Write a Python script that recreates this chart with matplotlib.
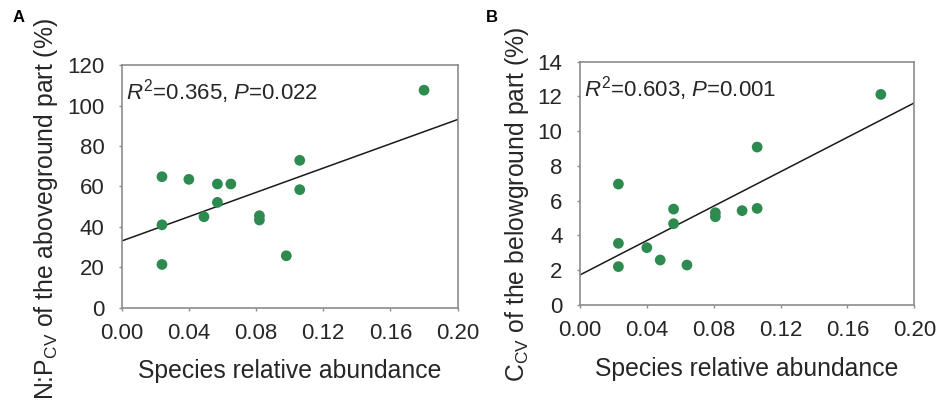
import numpy as np
import matplotlib
matplotlib.use('Agg')
import matplotlib.pyplot as plt

plt.rcParams['font.family'] = ['Liberation Sans', 'DejaVu Sans']
plt.rcParams['mathtext.fontset'] = 'custom'
plt.rcParams['mathtext.rm'] = 'Liberation Sans'
plt.rcParams['mathtext.it'] = 'Liberation Sans:italic'

# panel A: N:P CV of aboveground part
abund_a = [0.180, 0.024, 0.040, 0.057, 0.065, 0.106, 0.106, 0.057,
           0.049, 0.082, 0.082, 0.024, 0.098, 0.024]
np_cv = [107.6, 64.8, 63.5, 61.2, 61.2, 72.9, 58.4, 52.1,
         45.0, 45.5, 43.4, 41.0, 25.7, 21.4]
# panel B: C CV of belowground part
abund_b = [0.180, 0.023, 0.106, 0.056, 0.056, 0.040, 0.023, 0.023,
           0.048, 0.064, 0.081, 0.081, 0.097, 0.106]
c_cv = [12.12, 6.96, 9.09, 5.52, 4.68, 3.30, 3.55, 2.21,
        2.59, 2.30, 5.31, 5.08, 5.43, 5.56]

# fitted lines (intercept, slope)
fit_a = (33.0, 300.5)
fit_b = (1.73, 49.5)

stats_a = r'$R^2$=0.365, $P$=0.022'
stats_b = r'$R^2$=0.603, $P$=0.001'

xticks = [0.00, 0.04, 0.08, 0.12, 0.16, 0.20]

green = '#2e8b4f'
spine_col = '#8c8c8c'
txt_col = '#262626'

fig = plt.figure(figsize=(9.38, 4.05), dpi=100)
ax_a = fig.add_axes([0.1297, 0.2402, 0.3582, 0.599])
ax_b = fig.add_axes([0.6183, 0.2469, 0.3564, 0.6007])


def draw(ax, x, y, fit, stats, ylim, ystep, ylabel, ylab_y):
    xs = np.array([0.0, 0.2])
    ax.plot(xs, fit[0] + fit[1] * xs, color='#1a1a1a', lw=1.1, zorder=2)
    ax.scatter(x, y, s=60, color=green, edgecolor='none', zorder=3)
    ax.set_xlim(0, 0.2)
    ax.set_ylim(0, ylim)
    ax.set_xticks(xticks)
    ax.set_xticklabels(['%.2f' % t for t in xticks])
    ax.set_yticks(np.arange(0, ylim + 0.1, ystep))
    for s in ax.spines.values():
        s.set_color(spine_col)
        s.set_linewidth(1.2)
    ax.tick_params(direction='out', length=2.5, width=1, color=spine_col,
                   labelsize=16, labelcolor=txt_col)
    ax.tick_params(axis='x', pad=8.5)
    ax.tick_params(axis='y', pad=10)
    ax.set_xlabel('Species relative abundance', fontsize=17.8, color=txt_col, labelpad=11)
    ax.set_ylabel(ylabel, fontsize=17.8, color=txt_col, labelpad=5, y=ylab_y)
    ax.text(0.013, 0.95, stats, transform=ax.transAxes, fontsize=16,
            color=txt_col, va='top', ha='left')


draw(ax_a, abund_a, np_cv, fit_a, stats_a, 120, 20,
     r'N:P$_{\mathrm{CV}}$ of the aboveground part (%)', 0.407)
draw(ax_b, abund_b, c_cv, fit_b, stats_b, 14, 2,
     r'C$_{\mathrm{CV}}$ of the belowground part (%)', 0.415)

fig.text(19 / 938, 1 - 17.5 / 405, 'A', fontsize=12, fontweight='bold',
         va='center', ha='center')
fig.text(491.5 / 938, 1 - 17.5 / 405, 'B', fontsize=12, fontweight='bold',
         va='center', ha='center')

fig.savefig('out.png', dpi=100)
